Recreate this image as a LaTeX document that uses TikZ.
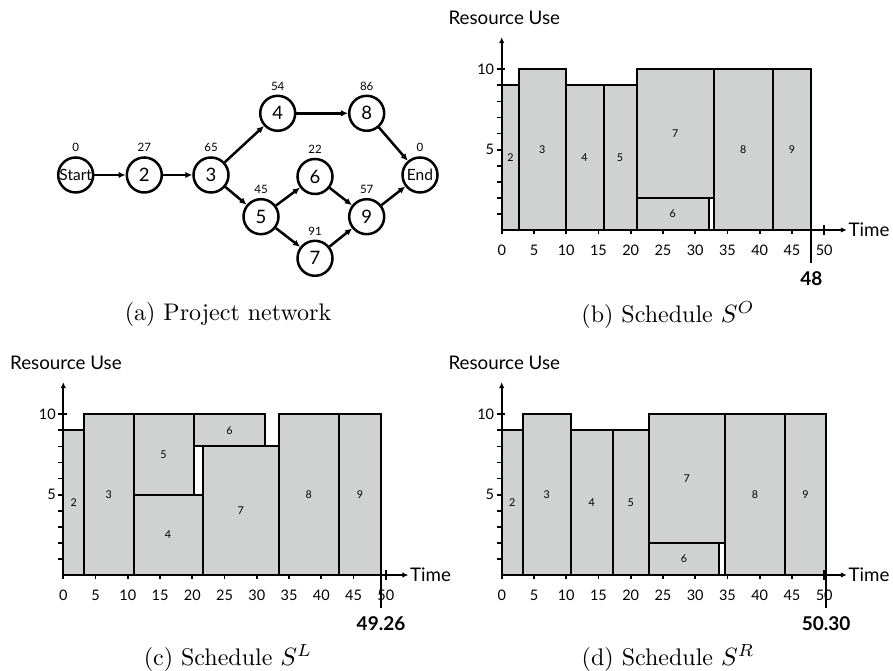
\documentclass[tikz,border=0pt]{standalone}
\usepackage{fontspec}
\newfontfamily\gillfont{Lato}
\usepackage{tikz}
\usetikzlibrary{arrows.meta,positioning}
\definecolor{blockgray}{RGB}{208,210,210}

\tikzset{
  tasknode/.style={circle, draw, line width=1pt, minimum size=14pt, inner sep=0pt, font=\gillfont\fontsize{7.4}{8}\selectfont},
  termnode/.style={tasknode, font=\gillfont\fontsize{6.2}{7}\selectfont},
  wlabel/.style={font=\gillfont\fontsize{4.6}{5}\selectfont, inner sep=0.5pt, label distance=1pt},
  flow/.style={-{Latex[length=2.8pt,width=2.6pt]}, line width=1pt},
  block/.style={draw, fill=blockgray, line width=0.8pt},
  blocklbl/.style={font=\gillfont\fontsize{4.3}{5}\selectfont, inner sep=0pt},
  axisline/.style={line width=0.7pt},
  axisarrow/.style={axisline, -{Latex[length=2.4pt,width=2.2pt]}},
  ticklbl/.style={font=\gillfont\fontsize{5.8}{6}\selectfont, inner sep=0pt},
  axislbl/.style={font=\gillfont\fontsize{7.5}{8}\selectfont, inner sep=0pt},
  mslbl/.style={font=\gillfont\bfseries\fontsize{7.6}{8}\selectfont, inner sep=0pt},
  caption/.style={font=\fontsize{9.6}{11}\selectfont, inner sep=0pt}
}

\begin{document}
\begin{tikzpicture}[x=0.4pt, y=0.4pt]
  \useasboundingbox (0,0) rectangle (893,671);

  % (a) Project network
  \node[termnode, label={[wlabel]above:0}] (start) at (75.7,496) {Start};
  \node[tasknode, label={[wlabel]above:27}] (n2) at (144.3,496) {2};
  \node[tasknode, label={[wlabel]above:65}] (n3) at (211,496) {3};
  \node[tasknode, label={[wlabel]above:54}] (n4) at (277.7,557.7) {4};
  \node[tasknode, label={[wlabel]above:86}] (n8) at (366.7,557.7) {8};
  \node[tasknode, label={[wlabel]above:22}] (n6) at (315,494.5) {6};
  \node[tasknode, label={[wlabel]above:45}] (n5) at (261,454.3) {5};
  \node[tasknode, label={[wlabel]above:57}] (n9) at (366.7,454.3) {9};
  \node[tasknode, label={[wlabel]above:91}] (n7) at (315,412.7) {7};
  \node[termnode, label={[wlabel]above:0}] (end) at (420,496) {End};

  \draw[flow] (start) -- (n2);
  \draw[flow] (n2) -- (n3);
  \draw[flow] (n3) -- (n4);
  \draw[flow] (n3) -- (n5);
  \draw[flow] (n4) -- (n8);
  \draw[flow] (n5) -- (n6);
  \draw[flow] (n5) -- (n7);
  \draw[flow] (n6) -- (n9);
  \draw[flow] (n7) -- (n9);
  \draw[flow] (n8) -- (end);
  \draw[flow] (n9) -- (end);

  % (b) Schedule S^O
  \begin{scope}[shift={(501.7,441)}, x=2.58pt, y=6.428pt]
    \draw[block] (0,0) rectangle node[blocklbl] (b2) {2} (2.7,9);
    \draw[block] (2.7,0) rectangle node[blocklbl] (b3) {3} (9.9,10);
    \draw[block] (9.9,0) rectangle node[blocklbl] (b4) {4} (15.8,9);
    \draw[block] (15.8,0) rectangle node[blocklbl] (b5) {5} (20.9,9);
    \draw[block] (20.9,0) rectangle node[blocklbl] (b6) {6} (32.1,2);
    \draw[block] (20.9,2) rectangle node[blocklbl] (b7) {7} (32.9,10);
    \draw[block] (32.9,0) rectangle node[blocklbl] (b8) {8} (42,10);
    \draw[block] (42,0) rectangle node[blocklbl] (b9) {9} (48,10);
  \end{scope}

  % (c) Schedule S^L
  \begin{scope}[shift={(63.3,96)}, x=2.58pt, y=6.428pt]
    \draw[block] (0,0) rectangle node[blocklbl] (c2) {2} (3.2,9);
    \draw[block] (3.2,0) rectangle node[blocklbl] (c3) {3} (10.9,10);
    \draw[block] (10.9,5) rectangle node[blocklbl] (c5) {5} (20.2,10);
    \draw[block] (10.9,0) rectangle node[blocklbl] (c4) {4} (21.6,5);
    \draw[block] (20.2,8) rectangle node[blocklbl] (c6) {6} (31.3,10);
    \draw[block] (21.6,0) rectangle node[blocklbl] (c7) {7} (33.4,8);
    \draw[block] (33.4,0) rectangle node[blocklbl] (c8) {8} (42.7,10);
    \draw[block] (42.7,0) rectangle node[blocklbl] (c9) {9} (49.26,10);
  \end{scope}

  % (d) Schedule S^R
  \begin{scope}[shift={(501.7,96)}, x=2.58pt, y=6.428pt]
    \draw[block] (0,0) rectangle node[blocklbl] (d2) {2} (3.25,9);
    \draw[block] (3.25,0) rectangle node[blocklbl] (d3) {3} (10.7,10);
    \draw[block] (10.7,0) rectangle node[blocklbl] (d4) {4} (17.2,9);
    \draw[block] (17.2,0) rectangle node[blocklbl] (d5) {5} (22.8,9);
    \draw[block] (22.8,0) rectangle node[blocklbl] (d6) {6} (33.7,2);
    \draw[block] (22.8,2) rectangle node[blocklbl] (d7) {7} (34.6,10);
    \draw[block] (34.6,0) rectangle node[blocklbl] (d8) {8} (43.9,10);
    \draw[block] (43.9,0) rectangle node[blocklbl] (d9) {9} (50.3,10);
  \end{scope}

  % axes of the three schedules
  \foreach \ox/\oy/\ms/\nm in {501.7/441/48/b, 63.3/96/49.26/c, 501.7/96/50.30/d} {
    \begin{scope}[shift={(\ox,\oy)}, x=2.58pt, y=6.428pt]
      \coordinate (\nm-o) at (0,0);
      \coordinate (\nm-ytip) at (0,12);
      \coordinate (\nm-xtip) at (53.5,0);
      \draw[axisarrow] (\nm-o) -- (\nm-ytip);
      \draw[axisarrow] (\nm-o) -- (\nm-xtip);
      \foreach \v in {1,...,9}
        \draw[axisline] (-0.8,\v) -- (0,\v);
      \draw[axisline] (-0.8,10) -- (0.5,10);
      \foreach \t in {0,5,...,45}
        \draw[axisline] (\t,0) -- (\t,-0.25);
      \draw[axisline] (50,-0.3) -- (50,0.3);
      \foreach \t in {0,5,...,50}
        \node[ticklbl] (\nm-x\t) at (\t,-1.25) {\t};
      \node[ticklbl, anchor=east] (\nm-y5) at (-1.1,5) {5};
      \node[ticklbl, anchor=east] (\nm-y10) at (-1.1,10) {10};
      \node[axislbl] (\nm-res) at (0.4,13.2) {Resource Use};
      \node[axislbl, anchor=west] (\nm-time) at (53.7,0) {Time};
      \coordinate (\nm-ms) at (\ms,0);
      \coordinate (\nm-msend) at (\ms,-2.05);
      \draw[axisline] (\nm-ms) -- (\nm-msend);
      \node[mslbl] (\nm-mslbl) at (\ms,-3) {\ms};
    \end{scope}
  }

  % captions
  \node[caption] (capa) at (228,356) {(a) Project network};
  \node[caption] (capb) at (668,356) {(b) Schedule $S^O$};
  \node[caption] (capc) at (228,13) {(c) Schedule $S^L$};
  \node[caption] (capd) at (668,13) {(d) Schedule $S^R$};
\end{tikzpicture}
\end{document}
